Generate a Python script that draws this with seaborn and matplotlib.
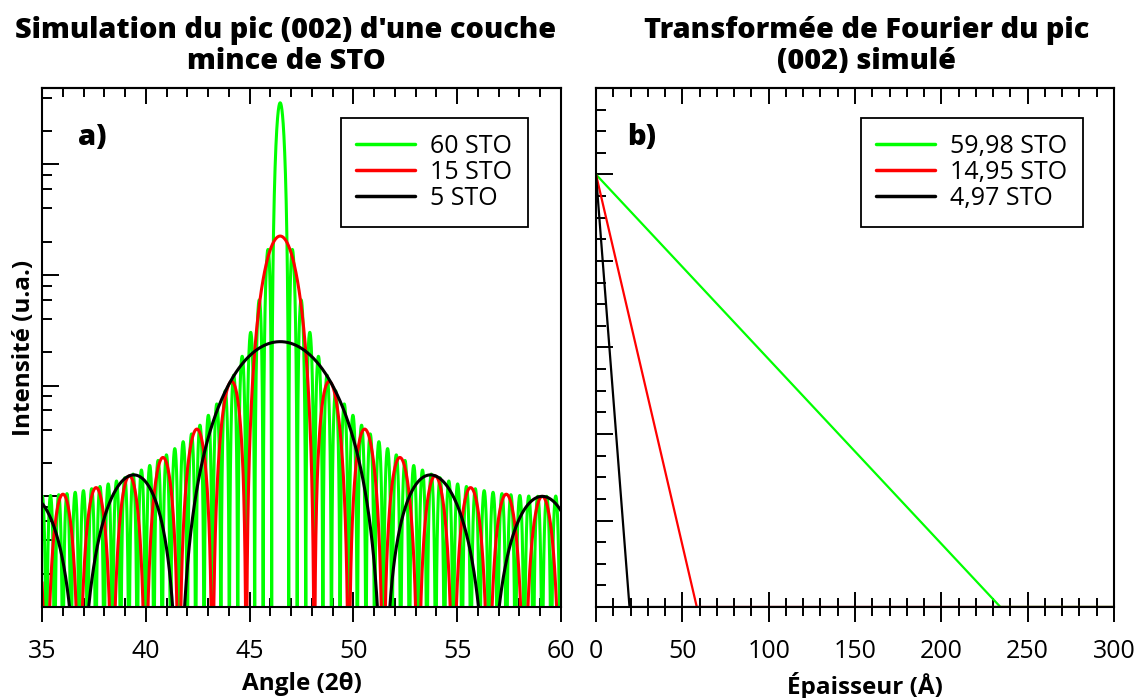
import numpy as np
import pandas as pd
import matplotlib
matplotlib.use("Agg")
import matplotlib.pyplot as plt
import seaborn as sns
from matplotlib.ticker import MultipleLocator, LogLocator, NullFormatter
from matplotlib.lines import Line2D

# Simulated SrTiO3 films
n_layers = [60, 15, 5]
film_labels = ["60 STO", "15 STO", "5 STO"]
fitted_layers = [59.98, 14.95, 4.97]
fitted_labels = ["59,98 STO", "14,95 STO", "4,97 STO"]
line_colors = ["#00ff00", "#ff0000", "#000000"]
c_sto = 3.905          # Å, out-of-plane lattice parameter
wavelength = 1.5406    # Å, Cu K-alpha1
two_theta_range = [35, 60]
thickness_range = [0, 300]

sns.set_theme(style="white")
plt.rcParams["font.family"] = ["Open Sans", "DejaVu Sans"]
plt.rcParams.update({"text.color": "black", "axes.labelcolor": "black",
                     "xtick.color": "black", "ytick.color": "black"})

# Laue interference function around the (002) reflection
two_theta = np.linspace(two_theta_range[0], two_theta_range[1], 30001)
q = 4 * np.pi * np.sin(np.radians(two_theta / 2)) / wavelength
phase = q * c_sto / 2
frames = []
for n, lab in zip(n_layers, film_labels):
    s = np.sin(phase)
    s = np.where(np.abs(s) < 1e-12, 1e-12, s)
    inten = np.sin(n * phase) ** 2 / s ** 2
    frames.append(pd.DataFrame({"two_theta": two_theta, "intensity": inten, "film": lab}))
df_a = pd.concat(frames, ignore_index=True)

# Fourier transform envelope: triangle ending at the fitted thickness
frames = []
for f, lab in zip(fitted_layers, fitted_labels):
    t = f * c_sto
    frames.append(pd.DataFrame({"thickness": [0.0, t, thickness_range[1]],
                                "amplitude": [1.0, 0.0, 0.0], "film": lab}))
df_b = pd.concat(frames, ignore_index=True)

fig = plt.figure(figsize=(11.47, 6.98), dpi=100)
W, H = 1147, 698
ax1 = fig.add_axes([42 / W, (H - 607) / H, 519 / W, 519 / H])
ax2 = fig.add_axes([596 / W, (H - 607) / H, 518 / W, 519 / H])

ax1.set_yscale("log")
sns.lineplot(data=df_a, x="two_theta", y="intensity", hue="film",
             palette=dict(zip(film_labels, line_colors)), hue_order=film_labels,
             sort=False, estimator=None, legend=False, linewidth=2.2, ax=ax1)
sns.lineplot(data=df_b, x="thickness", y="amplitude", hue="film",
             palette=dict(zip(fitted_labels, line_colors)), hue_order=fitted_labels,
             sort=False, estimator=None, legend=False, linewidth=1.6, ax=ax2)

ax1.set_xlim(*two_theta_range)
ax1.set_ylim(0.1, 4900)
ax2.set_xlim(*thickness_range)
ax2.set_ylim(0, 1.2)

ax1.xaxis.set_major_locator(MultipleLocator(5))
ax1.xaxis.set_minor_locator(MultipleLocator(1))
ax1.yaxis.set_major_locator(LogLocator(base=10, numticks=20))
ax1.yaxis.set_minor_locator(LogLocator(base=10, subs=[2, 4, 6, 8], numticks=20))
ax1.yaxis.set_major_formatter(NullFormatter())
ax1.yaxis.set_minor_formatter(NullFormatter())

ax2.xaxis.set_major_locator(MultipleLocator(50))
ax2.xaxis.set_minor_locator(MultipleLocator(10))
ax2.yaxis.set_major_locator(MultipleLocator(0.2))
ax2.yaxis.set_minor_locator(MultipleLocator(0.05))
ax2.yaxis.set_major_formatter(NullFormatter())

for ax, major, minor in [(ax1, 5, 1), (ax2, 50, 10)]:
    for sp in ax.spines.values():
        sp.set_color("black")
        sp.set_linewidth(1.5)
    ax.tick_params(axis="x", which="major", direction="inout", length=21.5, width=1.4,
                   labelsize=18, colors="black", pad=12, bottom=True, top=False)
    ax.tick_params(axis="x", which="minor", direction="inout", length=13, width=1.4,
                   bottom=True, top=False)
    ax.tick_params(axis="y", which="major", direction="in", length=12, width=1.4,
                   left=True, right=False, labelleft=False)
    ax.tick_params(axis="y", which="minor", direction="in", length=7, width=1.4,
                   left=True, right=False)
    top = ax.secondary_xaxis("top")
    top.xaxis.set_major_locator(MultipleLocator(major))
    top.xaxis.set_minor_locator(MultipleLocator(minor))
    top.tick_params(axis="x", which="major", direction="in", length=11.5, width=1.4,
                    labeltop=False, colors="black")
    top.tick_params(axis="x", which="minor", direction="in", length=6.5, width=1.4)
    top.spines["top"].set_linewidth(1.5)

ax1.set_xlabel("Angle (2θ)", fontsize=17.5, fontweight="bold")
ax1.xaxis.set_label_coords(0.5, -0.125)
ax1.set_ylabel("Intensité (u.a.)", fontsize=17.5, fontweight="bold")
ax1.yaxis.set_label_coords(-0.011, 0.5)
ax2.set_xlabel("Épaisseur (Å)", fontsize=17.5, fontweight="bold")
ax2.xaxis.set_label_coords(0.519, -0.125)
ax2.set_ylabel("")

title_kw = dict(fontsize=20.8, fontweight="heavy", pad=14, linespacing=1.08,
                color="black")
ax1.set_title("Simulation du pic (002) d'une couche\nmince de STO", x=0.470, **title_kw)
ax2.set_title("Transformée de Fourier du pic\n(002) simulé", x=0.523, **title_kw)

ax1.text(0.069, 0.89, "a)", transform=ax1.transAxes, fontsize=21, fontweight="heavy",
         va="baseline", ha="left")
ax2.text(0.06, 0.89, "b)", transform=ax2.transAxes, fontsize=21, fontweight="heavy",
         va="baseline", ha="left")

legend_kw = dict(loc="upper right", borderaxespad=0, fontsize=18, frameon=True,
                 fancybox=False, framealpha=1, edgecolor="black", handlelength=2.35,
                 handletextpad=0.62, labelspacing=0.05, borderpad=0.62,
                 labelcolor="black")
h1 = [Line2D([], [], color=c, lw=2.5) for c in line_colors]
leg1 = ax1.legend(h1, film_labels, bbox_to_anchor=(0.936, 0.942), **legend_kw)
leg1.get_frame().set_linewidth(1.3)
h2 = [Line2D([], [], color=c, lw=2.5) for c in line_colors]
leg2 = ax2.legend(h2, fitted_labels, bbox_to_anchor=(0.940, 0.942), **legend_kw)
leg2.get_frame().set_linewidth(1.3)

fig.savefig("out.png", dpi=100)
